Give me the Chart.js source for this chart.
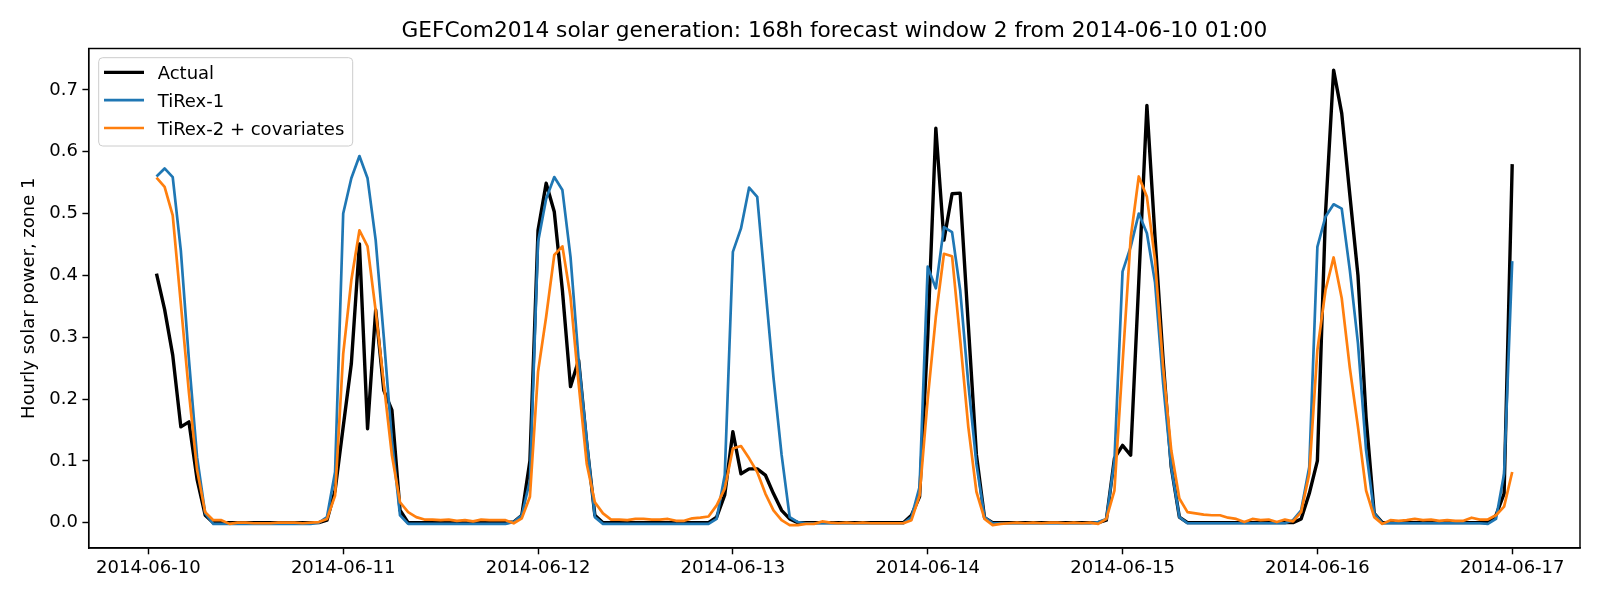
<!DOCTYPE html>
<html>
<head>
<meta charset="utf-8">
<script src="https://cdn.jsdelivr.net/npm/chart.js@4.4.1/dist/chart.umd.min.js"></script>
<style>
html,body{margin:0;padding:0;background:#fff;}
#wrap{width:1600px;height:600px;position:relative;}
</style>
</head>
<body>
<div id="wrap"><canvas id="c" width="1600" height="600"></canvas></div>
<script>
// ---- data (hourly, first point = 2014-06-10 01:00) ----
const chartTitle = 'GEFCom2014 solar generation: 168h forecast window 2 from 2014-06-10 01:00';
const yAxisTitle = 'Hourly solar power, zone 1';
const seriesNames = ['Actual', 'TiRex-1', 'TiRex-2 + covariates'];

const actual = [
  0.403,0.345,0.271,0.155,0.163,0.07,0.012,0,0,0,0,0,0,0,0,0,0,0,0,0,0,0.004,0.052,0.155,
  0.257,0.451,0.152,0.344,0.214,0.182,0.02,0,0,0,0,0,0,0,0,0,0,0,0,0,0.001,0.012,0.10,0.473,
  0.549,0.503,0.376,0.22,0.263,0.128,0.012,0,0,0,0,0,0,0,0,0,0,0,0,0,0,0.009,0.045,0.147,
  0.079,0.087,0.087,0.077,0.047,0.02,0.006,0,0,0,0,0,0,0,0,0,0,0,0,0,0,0.012,0.042,0.30,
  0.638,0.457,0.532,0.533,0.32,0.11,0.008,0,0,0,0,0,0,0,0,0,0,0,0,0,0,0.004,0.104,0.125,
  0.109,0.39,0.675,0.462,0.263,0.09,0.009,0,0,0,0,0,0,0,0,0,0,0,0,0,0,0.006,0.047,0.1,
  0.5,0.732,0.662,0.53,0.40,0.17,0.015,0,0,0,0,0,0,0,0,0,0,0,0,0,0,0.012,0.047,0.58
];
const tirex1 = [
  0.560,0.573,0.559,0.44,0.263,0.106,0.015,-0.002,-0.002,-0.002,-0.002,-0.002,-0.002,-0.002,-0.002,-0.002,-0.002,-0.002,-0.002,-0.002,0.0,0.009,0.082,0.50,
  0.557,0.593,0.557,0.457,0.30,0.133,0.012,-0.002,-0.002,-0.002,-0.002,-0.002,-0.002,-0.002,-0.002,-0.002,-0.002,-0.002,-0.002,-0.002,0.001,0.012,0.068,0.454,
  0.524,0.559,0.538,0.43,0.263,0.133,0.009,-0.002,-0.002,-0.002,-0.002,-0.002,-0.002,-0.002,-0.002,-0.002,-0.002,-0.002,-0.002,-0.002,-0.002,0.006,0.077,0.438,
  0.476,0.542,0.527,0.38,0.235,0.11,0.009,0.001,-0.001,-0.001,-0.001,-0.001,-0.001,-0.001,-0.001,-0.001,-0.001,-0.001,-0.001,-0.001,-0.001,0.009,0.058,0.414,
  0.379,0.478,0.47,0.376,0.225,0.095,0.009,-0.001,-0.001,-0.001,-0.001,-0.001,-0.001,-0.001,-0.001,-0.001,-0.001,-0.001,-0.001,-0.001,0.001,0.006,0.1,0.406,
  0.446,0.5,0.468,0.389,0.225,0.09,0.009,-0.001,-0.001,-0.001,-0.001,-0.001,-0.001,-0.001,-0.001,-0.001,-0.001,-0.001,-0.001,-0.001,0.004,0.02,0.09,0.446,
  0.495,0.515,0.508,0.408,0.29,0.117,0.015,-0.001,-0.001,-0.001,-0.001,-0.001,-0.001,-0.001,-0.001,-0.001,-0.001,-0.001,-0.001,-0.001,-0.002,0.006,0.079,0.423
];
const tirex2 = [
  0.558,0.543,0.497,0.354,0.21,0.085,0.017,0.004,0.004,-0.002,0,0,-0.001,-0.001,-0.001,0,0,0,-0.001,0,0.001,0.006,0.044,0.273,
  0.392,0.473,0.447,0.343,0.225,0.109,0.033,0.017,0.009,0.005,0.005,0.004,0.005,0.003,0.004,0.002,0.005,0.004,0.004,0.004,-0.001,0.007,0.042,0.244,
  0.333,0.433,0.447,0.365,0.225,0.095,0.033,0.015,0.005,0.005,0.004,0.006,0.006,0.005,0.005,0.006,0.003,0.003,0.007,0.008,0.01,0.028,0.055,0.12,
  0.124,0.104,0.082,0.047,0.02,0.004,-0.004,-0.004,-0.002,-0.002,0.002,0,-0.001,0,-0.001,0,-0.001,-0.001,-0.001,-0.001,-0.001,0.004,0.044,0.2,
  0.333,0.435,0.431,0.296,0.155,0.05,0.006,-0.004,-0.002,-0.001,0,-0.001,0,-0.001,0,0,-0.001,0,-0.001,0,-0.002,0.006,0.052,0.257,
  0.46,0.56,0.527,0.425,0.252,0.117,0.039,0.017,0.015,0.013,0.012,0.012,0.008,0.006,0.001,0.006,0.004,0.005,0.001,0.005,0.002,0.017,0.079,0.279,
  0.376,0.429,0.363,0.25,0.155,0.052,0.009,-0.002,0.004,0.003,0.004,0.006,0.004,0.005,0.003,0.004,0.003,0.003,0.008,0.005,0.005,0.012,0.026,0.082
];
// hours since 2014-06-10 00:00 for each point
const hoursSinceStartDay = actual.map((_, i) => i + 1);

const xTickHours = [0, 24, 48, 72, 96, 120, 144, 168];
const xTickLabels = ['2014-06-10','2014-06-11','2014-06-12','2014-06-13','2014-06-14','2014-06-15','2014-06-16','2014-06-17'];
const yTickValues = [0, 0.1, 0.2, 0.3, 0.4, 0.5, 0.6, 0.7];
const yTickLabels = ['0.0','0.1','0.2','0.3','0.4','0.5','0.6','0.7'];

// ---- styles ----
const FONT = '"DejaVu Sans", "Liberation Sans", sans-serif';
const colors = ['#000000', '#1f77b4', '#ff7f0e'];
const widths = [3.4, 2.7, 2.7];

const toPoints = arr => arr.map((v, i) => ({x: hoursSinceStartDay[i], y: v}));

const framePlugin = {
  id: 'frame',
  afterDatasetsDraw(chart) {
    const {ctx, chartArea: a} = chart;
    ctx.save();
    ctx.strokeStyle = '#000';
    ctx.lineWidth = 1.44;
    ctx.strokeRect(a.left, a.top, a.right - a.left, a.bottom - a.top);
    ctx.restore();
  },
  afterDraw(chart) {
    const {ctx, chartArea: a} = chart;
    ctx.save();
    // title
    ctx.fillStyle = '#000';
    ctx.font = '21.7px ' + FONT;
    ctx.textAlign = 'center';
    ctx.textBaseline = 'alphabetic';
    ctx.fillText(chartTitle, (a.left + a.right) / 2, 36.5);
    // legend
    const bx = 98.7, by = 57.7, bw = 254, bh = 88.3;
    ctx.beginPath();
    ctx.roundRect(bx, by, bw, bh, 4);
    ctx.fillStyle = 'rgba(255,255,255,0.8)';
    ctx.fill();
    ctx.strokeStyle = '#cccccc';
    ctx.lineWidth = 1;
    ctx.stroke();
    const lineYs = [72.4, 100.2, 128.0];
    const baseYs = [79.3, 107.1, 134.9];
    ctx.font = '18px ' + FONT;
    ctx.textAlign = 'left';
    for (let i = 0; i < seriesNames.length; i++) {
      ctx.beginPath();
      ctx.strokeStyle = colors[i];
      ctx.lineWidth = widths[i];
      ctx.moveTo(104, lineYs[i]);
      ctx.lineTo(144, lineYs[i]);
      ctx.stroke();
      ctx.fillStyle = '#000';
      ctx.fillText(seriesNames[i], 157.7, baseYs[i]);
    }
    ctx.restore();
  }
};

const series = [actual, tirex1, tirex2];
const datasets = series.map((arr, i) => ({
  label: seriesNames[i],
  data: toPoints(arr),
  borderColor: colors[i],
  backgroundColor: colors[i],
  borderWidth: widths[i],
  pointRadius: 0,
  tension: 0,
  fill: false,
  borderJoinStyle: 'round',
  order: 3 - i
}));

new Chart(document.getElementById('c'), {
  type: 'line',
  data: {datasets},
  plugins: [framePlugin],
  options: {
    responsive: false,
    animation: false,
    devicePixelRatio: 1,
    events: [],
    layout: {padding: {left: 0, top: 48.5, right: 20, bottom: 0}},
    plugins: {legend: {display: false}, tooltip: {enabled: false}, title: {display: false}},
    scales: {
      x: {
        type: 'linear',
        min: -7.35,
        max: 176.35,
        afterBuildTicks: s => { s.ticks = xTickHours.map(v => ({value: v})); },
        afterFit: s => { s.height = 52; },
        ticks: {
          autoSkip: false, maxRotation: 0, minRotation: 0,
          padding: 3.7, color: '#000',
          font: {family: FONT, size: 18},
          callback: (v, i) => xTickLabels[i]
        },
        grid: {display: true, drawOnChartArea: false, drawTicks: true, tickLength: 6.3, tickColor: '#000', tickWidth: 1.44},
        border: {display: true, color: '#000', width: 1.44}
      },
      y: {
        type: 'linear',
        min: -0.041,
        max: 0.767,
        afterBuildTicks: s => { s.ticks = yTickValues.map(v => ({value: v})); },
        afterFit: s => { s.width = 88.7; },
        ticks: {
          padding: 4.4, color: '#000',
          font: {family: FONT, size: 18},
          callback: (v, i) => yTickLabels[i]
        },
        grid: {display: true, drawOnChartArea: false, drawTicks: true, tickLength: 6.3, tickColor: '#000', tickWidth: 1.44},
        border: {display: true, color: '#000', width: 1.44},
        title: {display: true, text: yAxisTitle, color: '#000', font: {family: FONT, size: 18}, padding: {top: 18.2, bottom: 0}}
      }
    }
  }
});
</script>
</body>
</html>
